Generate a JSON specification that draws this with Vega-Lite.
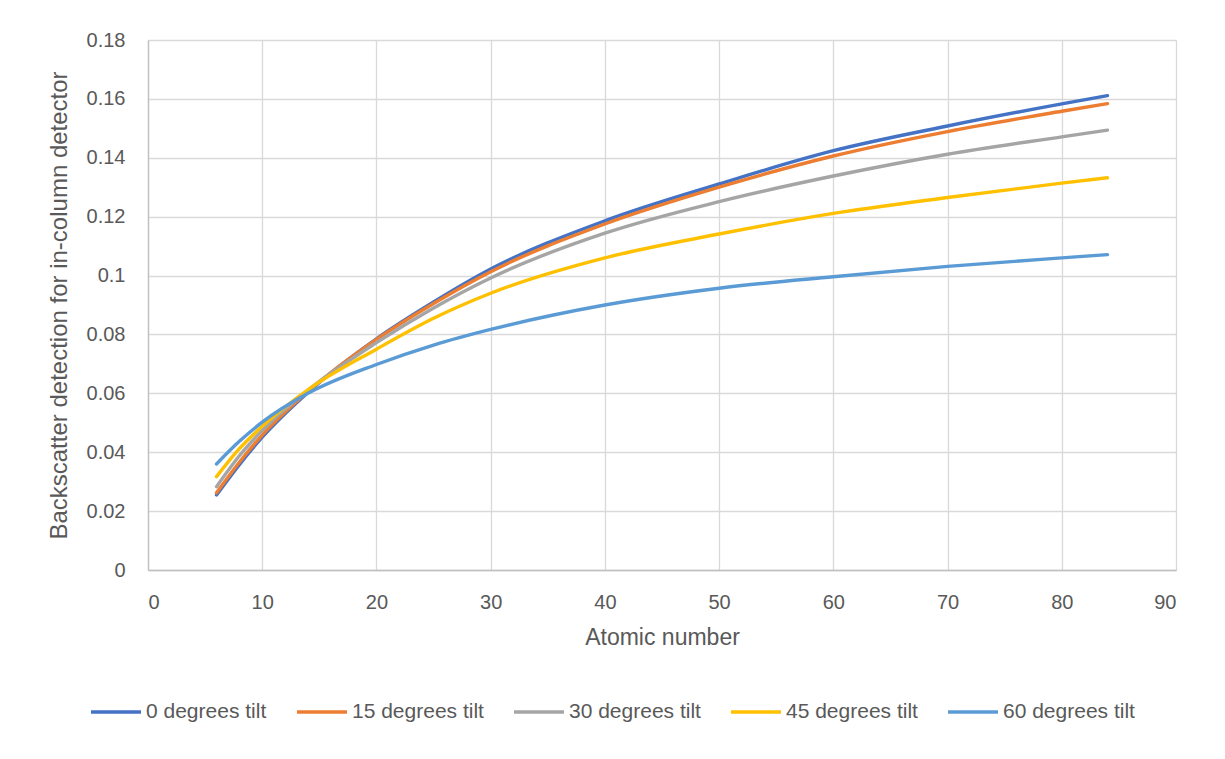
{
  "$schema": "https://vega.github.io/schema/vega-lite/v6.json",
  "width": 1028,
  "height": 530,
  "autosize": {"type": "none"},
  "padding": {"left": 148, "top": 40, "right": 49, "bottom": 189},
  "background": "white",
  "config": {
    "view": {"stroke": null},
    "font": "Liberation Sans",
    "axis": {
      "gridColor": "#d9d9d9",
      "gridWidth": 1.3,
      "domainColor": "#bfbfbf",
      "domainWidth": 1.3,
      "ticks": false,
      "labelColor": "#595959",
      "titleColor": "#595959",
      "labelFontSize": 20,
      "titleFontSize": 23,
      "titleFontWeight": "normal",
      "labelFont": "Liberation Sans",
      "titleFont": "Liberation Sans"
    },
    "legend": {
      "labelColor": "#595959",
      "labelFontSize": 21,
      "labelFont": "Liberation Sans"
    }
  },
  "data": {
    "values": [
      {"Z": 6, "tilt": "0 degrees tilt", "v": 0.0255},
      {"Z": 8, "tilt": "0 degrees tilt", "v": 0.0358},
      {"Z": 10, "tilt": "0 degrees tilt", "v": 0.0451},
      {"Z": 14, "tilt": "0 degrees tilt", "v": 0.0603},
      {"Z": 20, "tilt": "0 degrees tilt", "v": 0.0785},
      {"Z": 25, "tilt": "0 degrees tilt", "v": 0.0910},
      {"Z": 30, "tilt": "0 degrees tilt", "v": 0.1022},
      {"Z": 40, "tilt": "0 degrees tilt", "v": 0.1186},
      {"Z": 50, "tilt": "0 degrees tilt", "v": 0.1311},
      {"Z": 60, "tilt": "0 degrees tilt", "v": 0.1424},
      {"Z": 70, "tilt": "0 degrees tilt", "v": 0.1508},
      {"Z": 80, "tilt": "0 degrees tilt", "v": 0.1583},
      {"Z": 84, "tilt": "0 degrees tilt", "v": 0.1611},

      {"Z": 6, "tilt": "15 degrees tilt", "v": 0.0262},
      {"Z": 8, "tilt": "15 degrees tilt", "v": 0.0366},
      {"Z": 10, "tilt": "15 degrees tilt", "v": 0.0458},
      {"Z": 14, "tilt": "15 degrees tilt", "v": 0.0606},
      {"Z": 20, "tilt": "15 degrees tilt", "v": 0.0783},
      {"Z": 25, "tilt": "15 degrees tilt", "v": 0.0905},
      {"Z": 30, "tilt": "15 degrees tilt", "v": 0.1013},
      {"Z": 40, "tilt": "15 degrees tilt", "v": 0.1175},
      {"Z": 50, "tilt": "15 degrees tilt", "v": 0.1300},
      {"Z": 60, "tilt": "15 degrees tilt", "v": 0.1406},
      {"Z": 70, "tilt": "15 degrees tilt", "v": 0.1489},
      {"Z": 80, "tilt": "15 degrees tilt", "v": 0.1558},
      {"Z": 84, "tilt": "15 degrees tilt", "v": 0.1584},

      {"Z": 6, "tilt": "30 degrees tilt", "v": 0.0283},
      {"Z": 8, "tilt": "30 degrees tilt", "v": 0.0388},
      {"Z": 10, "tilt": "30 degrees tilt", "v": 0.0474},
      {"Z": 14, "tilt": "30 degrees tilt", "v": 0.0610},
      {"Z": 20, "tilt": "30 degrees tilt", "v": 0.0772},
      {"Z": 25, "tilt": "30 degrees tilt", "v": 0.0890},
      {"Z": 30, "tilt": "30 degrees tilt", "v": 0.0992},
      {"Z": 40, "tilt": "30 degrees tilt", "v": 0.1144},
      {"Z": 50, "tilt": "30 degrees tilt", "v": 0.1251},
      {"Z": 60, "tilt": "30 degrees tilt", "v": 0.1338},
      {"Z": 70, "tilt": "30 degrees tilt", "v": 0.1412},
      {"Z": 80, "tilt": "30 degrees tilt", "v": 0.1471},
      {"Z": 84, "tilt": "30 degrees tilt", "v": 0.1494},

      {"Z": 6, "tilt": "45 degrees tilt", "v": 0.0317},
      {"Z": 8, "tilt": "45 degrees tilt", "v": 0.0412},
      {"Z": 10, "tilt": "45 degrees tilt", "v": 0.0488},
      {"Z": 14, "tilt": "45 degrees tilt", "v": 0.0612},
      {"Z": 20, "tilt": "45 degrees tilt", "v": 0.0750},
      {"Z": 25, "tilt": "45 degrees tilt", "v": 0.0855},
      {"Z": 30, "tilt": "45 degrees tilt", "v": 0.0940},
      {"Z": 40, "tilt": "45 degrees tilt", "v": 0.1060},
      {"Z": 50, "tilt": "45 degrees tilt", "v": 0.1141},
      {"Z": 60, "tilt": "45 degrees tilt", "v": 0.1211},
      {"Z": 70, "tilt": "45 degrees tilt", "v": 0.1265},
      {"Z": 80, "tilt": "45 degrees tilt", "v": 0.1314},
      {"Z": 84, "tilt": "45 degrees tilt", "v": 0.1332},

      {"Z": 6, "tilt": "60 degrees tilt", "v": 0.0360},
      {"Z": 8, "tilt": "60 degrees tilt", "v": 0.0437},
      {"Z": 10, "tilt": "60 degrees tilt", "v": 0.0502},
      {"Z": 14, "tilt": "60 degrees tilt", "v": 0.0600},
      {"Z": 20, "tilt": "60 degrees tilt", "v": 0.0698},
      {"Z": 25, "tilt": "60 degrees tilt", "v": 0.0764},
      {"Z": 30, "tilt": "60 degrees tilt", "v": 0.0817},
      {"Z": 40, "tilt": "60 degrees tilt", "v": 0.0900},
      {"Z": 50, "tilt": "60 degrees tilt", "v": 0.0957},
      {"Z": 60, "tilt": "60 degrees tilt", "v": 0.0996},
      {"Z": 70, "tilt": "60 degrees tilt", "v": 0.1031},
      {"Z": 80, "tilt": "60 degrees tilt", "v": 0.1060},
      {"Z": 84, "tilt": "60 degrees tilt", "v": 0.1071}
    ]
  },
  "mark": {"type": "line", "interpolate": "monotone", "strokeWidth": 3.4, "strokeCap": "round"},
  "encoding": {
    "x": {
      "field": "Z",
      "type": "quantitative",
      "scale": {"domain": [0, 90], "nice": false, "zero": false},
      "axis": {"values": [0, 10, 20, 30, 40, 50, 60, 70, 80, 90], "title": "Atomic number", "titlePadding": 14, "labelPadding": 22}
    },
    "y": {
      "field": "v",
      "type": "quantitative",
      "scale": {"domain": [0, 0.18], "nice": false},
      "axis": {"values": [0, 0.02, 0.04, 0.06, 0.08, 0.1, 0.12, 0.14, 0.16, 0.18], "format": "~g", "title": "Backscatter detection for in-column detector", "titlePadding": 15, "labelPadding": 23, "titleFontSize": 24}
    },
    "color": {
      "field": "tilt",
      "type": "nominal",
      "scale": {
        "domain": ["0 degrees tilt", "15 degrees tilt", "30 degrees tilt", "45 degrees tilt", "60 degrees tilt"],
        "range": ["#4472C4", "#ED7D31", "#A5A5A5", "#FFC000", "#5B9BD5"]
      },
      "legend": {
        "title": null,
        "orient": "none",
        "legendX": -59,
        "legendY": 645,
        "direction": "horizontal",
        "symbolType": "stroke",
        "symbolSize": 2500,
        "symbolStrokeWidth": 3.4,
        "labelOffset": 3,
        "columnPadding": 23
      }
    }
  }
}
